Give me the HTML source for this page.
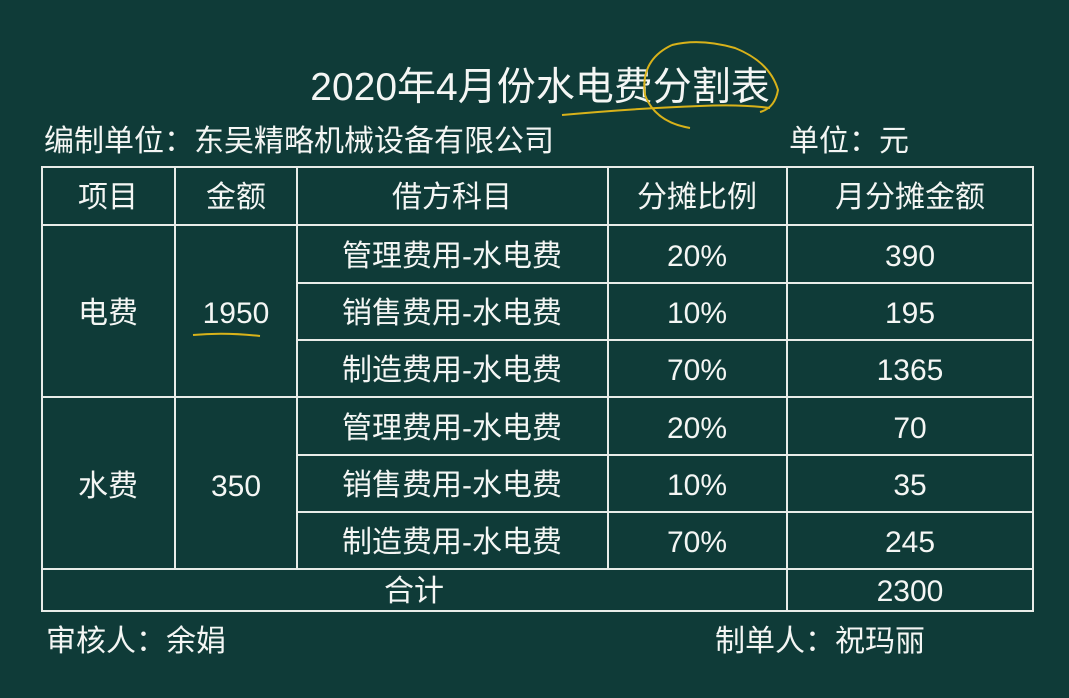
<!DOCTYPE html>
<html><head><meta charset="utf-8"><style>
html,body{margin:0;padding:0;background:#0f3b38;}
svg{display:block}
text{font-family:"Liberation Sans","Noto Sans CJK SC",sans-serif;fill:#f4f6f4;}
</style></head><body>
<svg width="1069" height="698" viewBox="0 0 1069 698" xmlns="http://www.w3.org/2000/svg">
<rect width="1069" height="698" fill="#0f3b38"/>
<text x="540" y="100" font-size="39" text-anchor="middle">2020年4月份水电费分割表</text>
<path d="M562 115 Q640 108 700 106 Q740 104 770 108" stroke="#d8b21a" stroke-width="2" fill="none"/>
<path d="M672 45 Q640 60 645 95 Q655 122 690 128 M672 45 Q700 38 735 48 Q770 62 778 90 Q775 108 760 112" stroke="#d8b21a" stroke-width="2" fill="none"/>
<text x="44" y="151" font-size="30">编制单位：东吴精略机械设备有限公司</text>
<text x="789" y="151" font-size="30">单位：元</text>
<g stroke="#e8ece8" stroke-width="2" fill="none">
<rect x="42" y="167" width="991" height="444"/>
<line x1="42" y1="225" x2="1033" y2="225"/>
<line x1="297" y1="283" x2="1033" y2="283"/>
<line x1="297" y1="340" x2="1033" y2="340"/>
<line x1="42" y1="397" x2="1033" y2="397"/>
<line x1="297" y1="455" x2="1033" y2="455"/>
<line x1="297" y1="512" x2="1033" y2="512"/>
<line x1="42" y1="569" x2="1033" y2="569"/>
<line x1="175" y1="167" x2="175" y2="569"/>
<line x1="297" y1="167" x2="297" y2="569"/>
<line x1="608" y1="167" x2="608" y2="569"/>
<line x1="787" y1="167" x2="787" y2="611"/>
</g>
<g font-size="30" text-anchor="middle">
<text x="108" y="207">项目</text><text x="236" y="207">金额</text><text x="452" y="207">借方科目</text><text x="697" y="207">分摊比例</text><text x="910" y="207">月分摊金额</text>
<text x="108" y="323">电费</text><text x="236" y="323">1950</text>
<text x="108" y="496">水费</text><text x="236" y="496">350</text>
<text x="452" y="266">管理费用-水电费</text><text x="697" y="266">20%</text><text x="910" y="266">390</text>
<text x="452" y="323">销售费用-水电费</text><text x="697" y="323">10%</text><text x="910" y="323">195</text>
<text x="452" y="380">制造费用-水电费</text><text x="697" y="380">70%</text><text x="910" y="380">1365</text>
<text x="452" y="438">管理费用-水电费</text><text x="697" y="438">20%</text><text x="910" y="438">70</text>
<text x="452" y="495">销售费用-水电费</text><text x="697" y="495">10%</text><text x="910" y="495">35</text>
<text x="452" y="552">制造费用-水电费</text><text x="697" y="552">70%</text><text x="910" y="552">245</text>
<text x="414" y="601">合计</text><text x="910" y="601">2300</text>
</g>
<path d="M193 335 Q225 332 260 336" stroke="#d8b21a" stroke-width="2" fill="none"/>
<text x="46" y="651" font-size="30">审核人：余娟</text>
<text x="715" y="651" font-size="30">制单人：祝玛丽</text>
</svg>
</body></html>
